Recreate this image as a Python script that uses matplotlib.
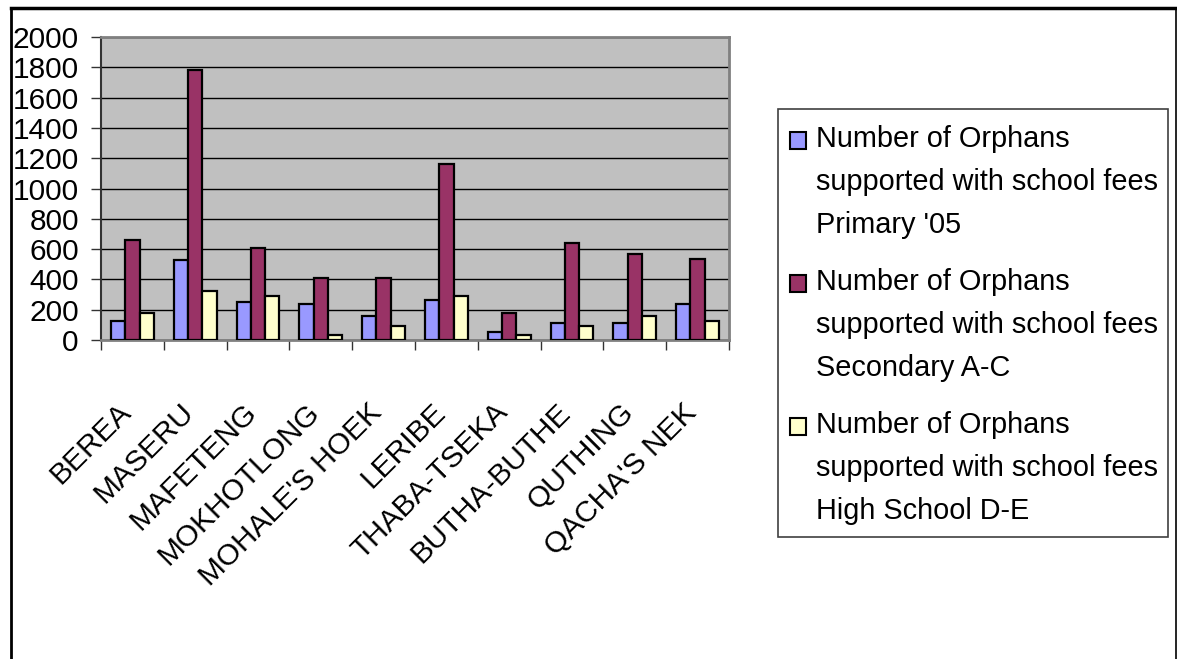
import matplotlib
matplotlib.use("Agg")
import matplotlib.pyplot as plt
from matplotlib.lines import Line2D
from matplotlib.patches import Rectangle
import numpy as np

plt.rcParams['font.family'] = ['Liberation Sans', 'DejaVu Sans']

districts = ["BEREA", "MASERU", "MAFETENG", "MOKHOTLONG", "MOHALE'S HOEK",
             "LERIBE", "THABA-TSEKA", "BUTHA-BUTHE", "QUTHING", "QACHA'S NEK"]
primary = [125, 530, 250, 235, 160, 265, 55, 110, 110, 235]
secondary = [660, 1780, 605, 410, 410, 1160, 178, 640, 570, 535]
high_school = [175, 325, 290, 35, 90, 290, 35, 90, 160, 125]
series_labels = ["Number of Orphans\nsupported with school fees\nPrimary '05",
                 "Number of Orphans\nsupported with school fees\nSecondary A-C",
                 "Number of Orphans\nsupported with school fees\nHigh School D-E"]
colors = ["#9999FF", "#993366", "#FFFFCC"]
yticks = list(range(0, 2001, 200))

W, H = 1177, 659
fig = plt.figure(figsize=(W / 100, H / 100), dpi=100)
ax = fig.add_axes([101 / W, 1 - 340 / H, 628 / W, 303 / H])
ax.set_facecolor("#C0C0C0")

x = np.arange(len(districts))
bw = 0.228
for k, vals in enumerate([primary, secondary, high_school]):
    ax.bar(x + (k - 1) * bw, vals, width=bw, color=colors[k],
           edgecolor="black", linewidth=1.6, zorder=3)

ax.set_xlim(-0.5, len(districts) - 0.5)
ax.set_ylim(0, 2000)
ax.set_yticks(yticks)
ax.yaxis.grid(True, color="black", linewidth=1.0, zorder=1)
ax.set_axisbelow(True)
ax.tick_params(axis="y", length=7, width=1.0, pad=9, labelsize=21.5,
               color="#333333")

ax.set_xticks(x)
ax.set_xticklabels(districts, rotation=45, ha="right", va="baseline",
                   rotation_mode="anchor", fontsize=21.5)
ax.tick_params(axis="x", which="major", length=0, pad=53)
ax.set_xticks(np.arange(-0.5, len(districts)), minor=True)
ax.tick_params(axis="x", which="minor", length=7, width=1.0, color="#333333")

for s in ["top", "right"]:
    ax.spines[s].set_color("#808080")
    ax.spines[s].set_linewidth(2)
ax.spines["left"].set_color("#333333")
ax.spines["left"].set_linewidth(1.5)
ax.spines["bottom"].set_color("#808080")
ax.spines["bottom"].set_linewidth(2)

# outer frame
fig.add_artist(Line2D([11 / W, 11 / W], [0, 1 - 8 / H], transform=fig.transFigure,
                      color="black", lw=2))
fig.add_artist(Line2D([11 / W, 1176 / W], [1 - 8 / H, 1 - 8 / H],
                      transform=fig.transFigure, color="black", lw=2.5))
fig.add_artist(Line2D([1176 / W, 1176 / W], [0, 1 - 8 / H], transform=fig.transFigure,
                      color="black", lw=1.2))

# legend
fig.add_artist(Rectangle((778 / W, 1 - 537 / H), 390 / W, 428 / H,
                         transform=fig.transFigure, fill=False,
                         edgecolor="#404040", lw=1.2))
for i, lab in enumerate(series_labels):
    y0 = 147 + 143 * i
    fig.add_artist(Rectangle((790 / W, 1 - (y0 + 2) / H), 16 / W, 17 / H,
                             transform=fig.transFigure, facecolor=colors[i],
                             edgecolor="black", lw=1.5))
    for j, line in enumerate(lab.split("\n")):
        fig.text(816 / W, 1 - (y0 + 43 * j) / H, line, fontsize=20.8,
                 ha="left", va="baseline")

fig.savefig("out.png", dpi=100)
